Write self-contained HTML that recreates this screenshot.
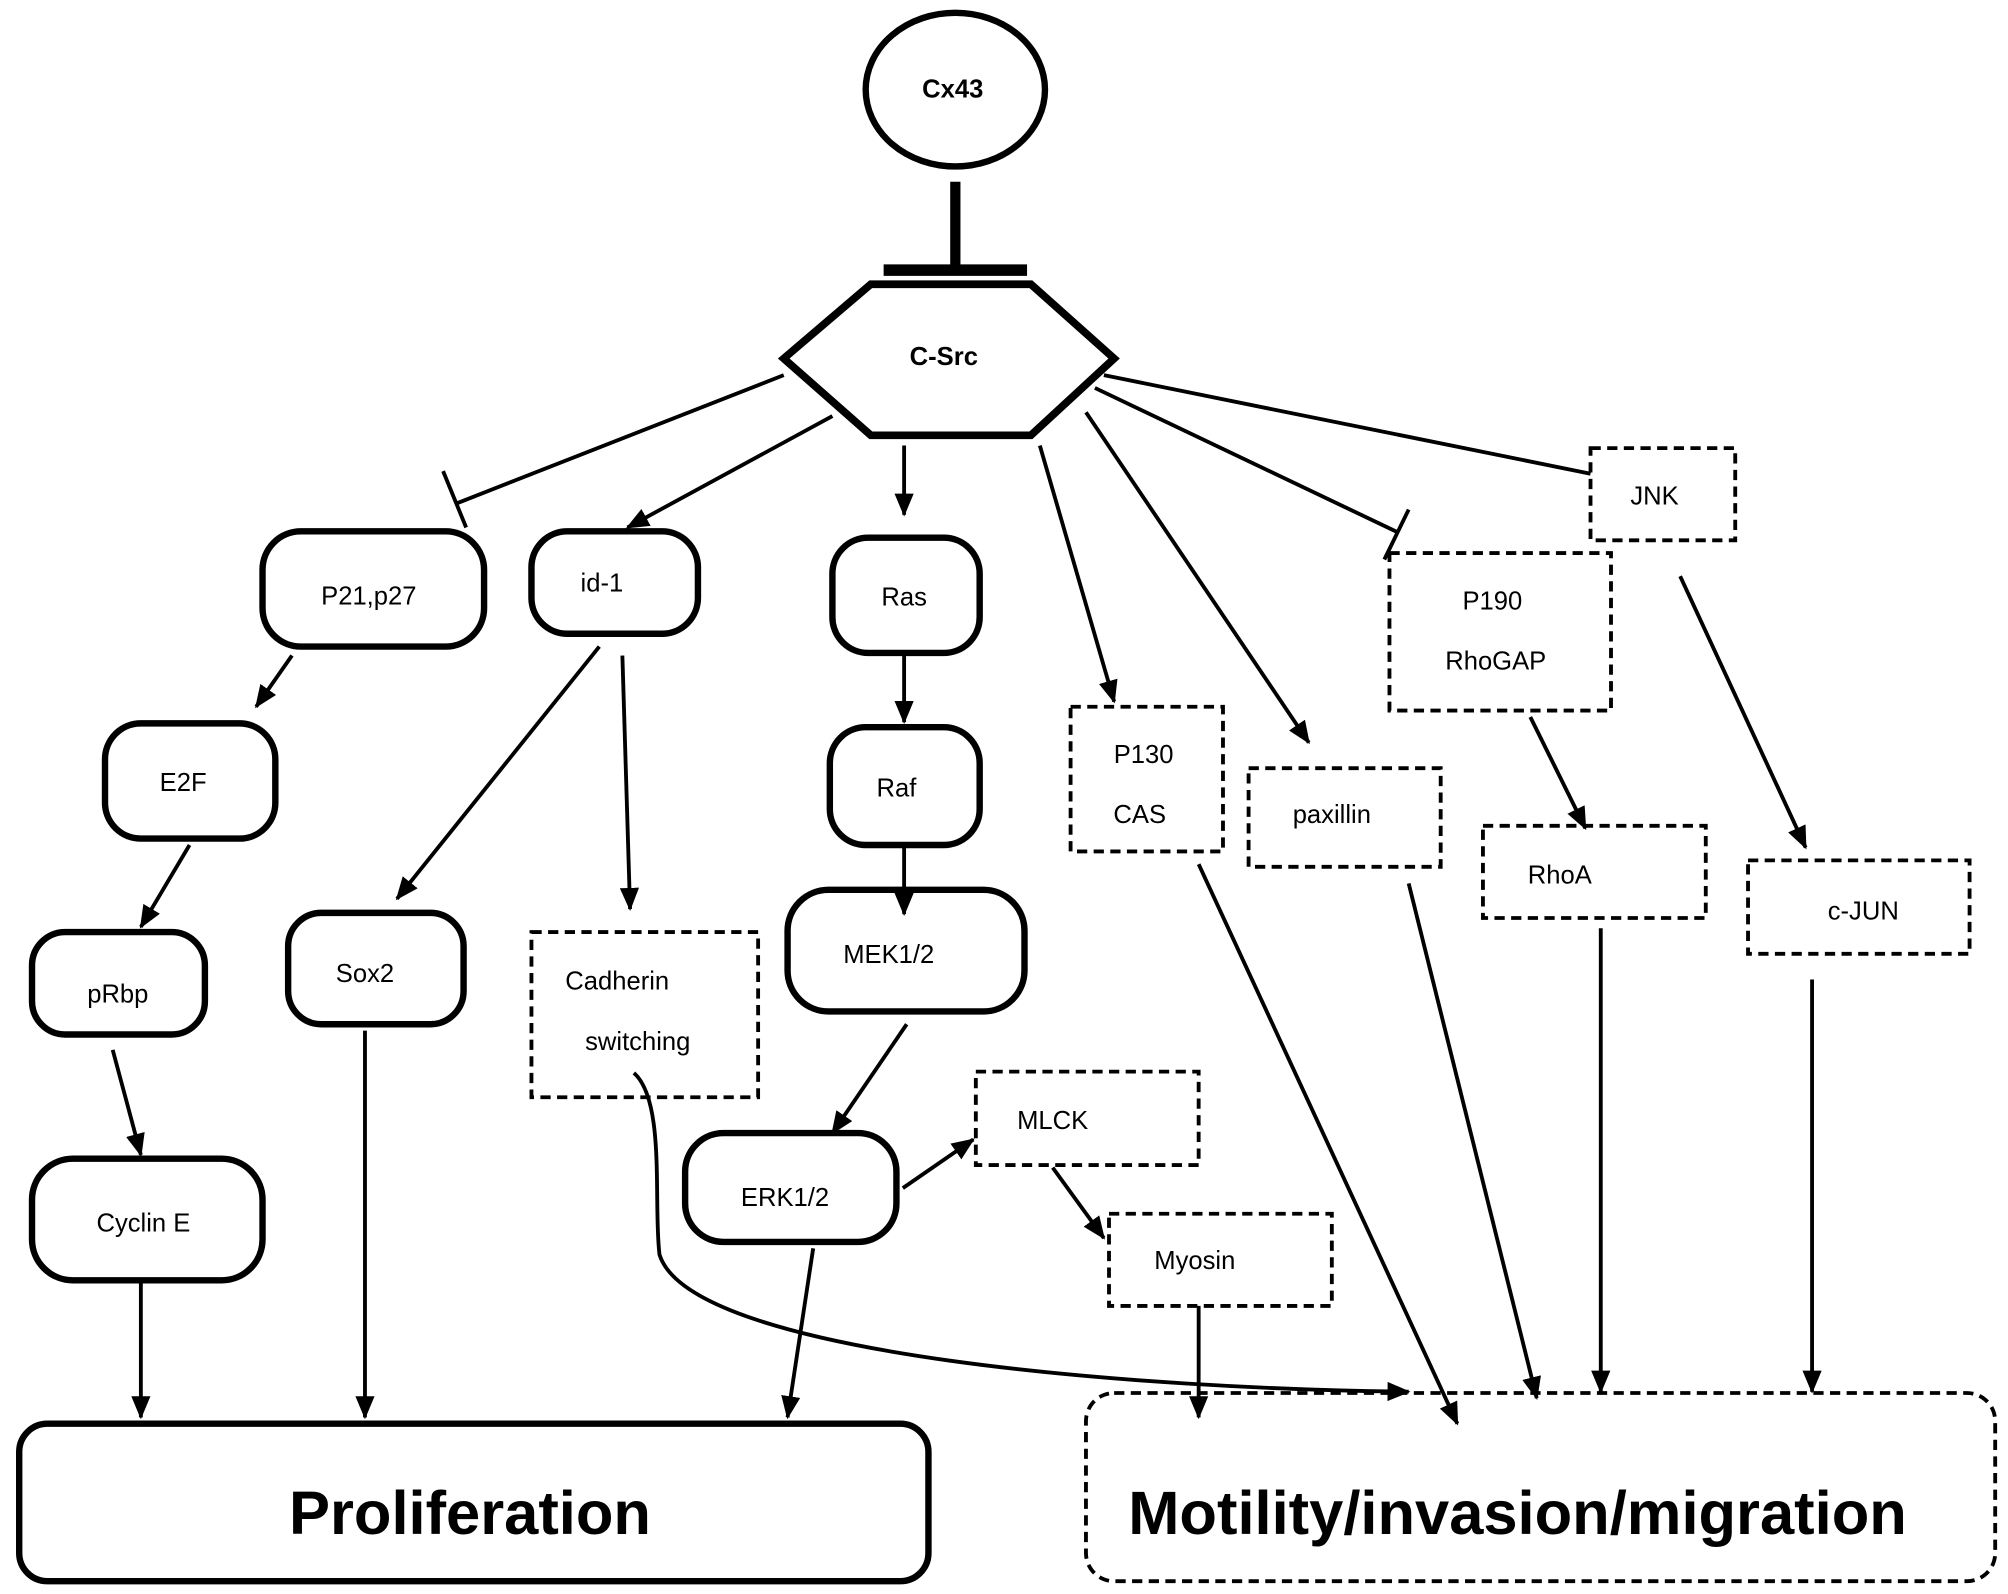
<!DOCTYPE html>
<html><head><meta charset="utf-8"><style>
html,body{margin:0;padding:0;background:#fff;}
svg{display:block;}
text{font-family:"Liberation Sans",sans-serif;fill:#000;}
</style></head><body>
<svg width="2008" height="1594" viewBox="0 0 1568 1245" preserveAspectRatio="none" xmlns="http://www.w3.org/2000/svg">
<defs>
<marker id="a" viewBox="0 0 10 10" refX="9" refY="5" markerWidth="7" markerHeight="7" orient="auto" markerUnits="userSpaceOnUse">
</marker>
<marker id="ar" viewBox="0 0 12 10" refX="11" refY="5" markerWidth="18" markerHeight="15" orient="auto" markerUnits="userSpaceOnUse"><path d="M0,0 L12,5 L0,10 z" fill="#000"/></marker>
</defs>
<rect width="1568" height="1245" fill="#fff"/>
<!-- Cx43 -->
<ellipse cx="746" cy="70" rx="70" ry="60" fill="none" stroke="#000" stroke-width="5"/>
<text x="744" y="76" font-size="20" font-weight="bold" text-anchor="middle">Cx43</text>
<line x1="746" y1="142" x2="746" y2="210" stroke="#000" stroke-width="8"/>
<line x1="690" y1="211" x2="802" y2="211" stroke="#000" stroke-width="9"/>
<!-- C-Src -->
<polygon points="612,280 680,222 805,222 870,280 805,340 680,340" fill="none" stroke="#000" stroke-width="6"/>
<text x="737" y="285" font-size="20" font-weight="bold" text-anchor="middle">C-Src</text>
<g fill="none" stroke="#000" stroke-width="5">
<rect x="205" y="415" width="173" height="90" rx="30"/>
<rect x="415" y="415" width="130" height="80" rx="28"/>
<rect x="650" y="420" width="115" height="90" rx="28"/>
<rect x="82" y="565" width="133" height="90" rx="28"/>
<rect x="648" y="568" width="117" height="92" rx="28"/>
<rect x="25" y="728" width="135" height="80" rx="26"/>
<rect x="225" y="713" width="137" height="87" rx="26"/>
<rect x="615" y="695" width="185" height="95" rx="32"/>
<rect x="25" y="905" width="180" height="95" rx="32"/>
<rect x="535" y="885" width="165" height="85" rx="30"/>
<rect x="15" y="1112" width="710" height="123" rx="22"/>
</g>
<g fill="none" stroke="#000" stroke-width="3" stroke-dasharray="8,5">
<rect x="1242" y="350" width="113" height="72"/>
<rect x="1085" y="432" width="173" height="123"/>
<rect x="836" y="552" width="119" height="113"/>
<rect x="975" y="600" width="150" height="77"/>
<rect x="1158" y="645" width="174" height="72"/>
<rect x="1365" y="672" width="173" height="73"/>
<rect x="415" y="728" width="177" height="129"/>
<rect x="762" y="837" width="174" height="73"/>
<rect x="866" y="948" width="174" height="72"/>
<rect x="848" y="1088" width="710" height="147" rx="22"/>
</g>
<g font-size="20" text-anchor="middle">
<text x="288" y="472">P21,p27</text>
<text x="470" y="462">id-1</text>
<text x="706" y="473">Ras</text>
<text x="143" y="618">E2F</text>
<text x="700" y="622">Raf</text>
<text x="92" y="783">pRbp</text>
<text x="285" y="767">Sox2</text>
<text x="694" y="752">MEK1/2</text>
<text x="112" y="962">Cyclin E</text>
<text x="613" y="942">ERK1/2</text>
<text x="1292" y="394">JNK</text>
<text x="1142" y="476" text-anchor="start" x2="0">P190</text>
<text x="1168" y="523">RhoGAP</text>
<text x="893" y="596">P130</text>
<text x="890" y="643">CAS</text>
<text x="1040" y="643">paxillin</text>
<text x="1218" y="690">RhoA</text>
<text x="1455" y="718">c-JUN</text>
<text x="482" y="773">Cadherin</text>
<text x="498" y="820">switching</text>
<text x="822" y="882">MLCK</text>
<text x="933" y="991">Myosin</text>
</g>
<text x="367" y="1198" font-size="48" font-weight="bold" text-anchor="middle">Proliferation</text>
<text x="1185" y="1198" font-size="48" font-weight="bold" text-anchor="middle">Motility/invasion/migration</text>
<g stroke="#000" stroke-width="3" fill="none">
<line x1="612" y1="293" x2="357" y2="393"/>
<line x1="346" y1="368" x2="364" y2="412"/>
<line x1="855" y1="303" x2="1092" y2="416"/>
<line x1="1081" y1="437" x2="1100" y2="398"/>
<line x1="862" y1="293" x2="1242" y2="370"/>
</g>
<g stroke="#000" stroke-width="3" fill="none" marker-end="url(#ar)">
<line x1="650" y1="325" x2="490" y2="412"/>
<line x1="706" y1="348" x2="706" y2="402"/>
<line x1="812" y1="348" x2="870" y2="548"/>
<line x1="848" y1="322" x2="1022" y2="580"/>
<line x1="228" y1="512" x2="200" y2="552"/>
<line x1="148" y1="660" x2="110" y2="724"/>
<line x1="88" y1="820" x2="110" y2="902"/>
<line x1="110" y1="1002" x2="110" y2="1107"/>
<line x1="285" y1="805" x2="285" y2="1107"/>
<line x1="468" y1="505" x2="310" y2="702"/>
<line x1="486" y1="512" x2="492" y2="710"/>
<line x1="706" y1="512" x2="706" y2="564"/>
<line x1="706" y1="660" x2="706" y2="714"/>
<line x1="708" y1="800" x2="650" y2="885"/>
<line x1="705" y1="928" x2="760" y2="890"/>
<line x1="822" y1="912" x2="862" y2="967"/>
<line x1="635" y1="975" x2="615" y2="1107"/>
<line x1="936" y1="1020" x2="936" y2="1107"/>
<path d="M495,838 C520,860 510,940 515,980 C540,1060 900,1085 1100,1087"/>
<line x1="936" y1="675" x2="1138" y2="1112"/>
<line x1="1100" y1="690" x2="1200" y2="1092"/>
<line x1="1195" y1="560" x2="1238" y2="647"/>
<line x1="1250" y1="725" x2="1250" y2="1087"/>
<line x1="1312" y1="450" x2="1410" y2="662"/>
<line x1="1415" y1="765" x2="1415" y2="1087"/>
</g>
</svg>
</body></html>
